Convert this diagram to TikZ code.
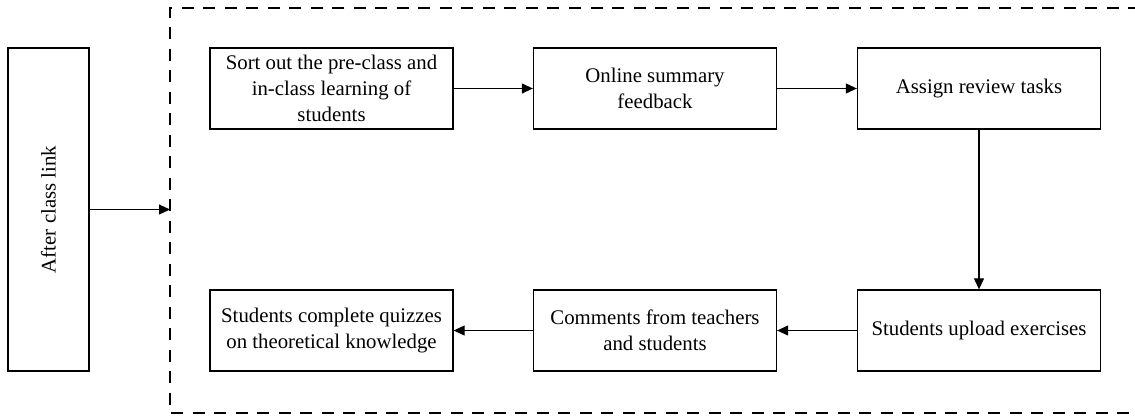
\documentclass[tikz,border=0pt]{standalone}
\usepackage{fontspec}
\setmainfont{Liberation Serif}
\usetikzlibrary{arrows.meta}

\tikzset{
  stepbox/.style={draw, line width=1.3bp, minimum width=243bp, minimum height=81bp,
    align=center, inner sep=2bp, font=\fontsize{20.8bp}{25.7bp}\selectfont},
  arr/.style={line width=1.1bp, -{Triangle[length=11bp,width=10bp]}}
}

\begin{document}
\begin{tikzpicture}[x=1bp,y=-1bp]
\useasboundingbox (0,0) rectangle (1135,415);
%
\node[stepbox, minimum width=81bp, minimum height=323bp] (link) at (48.5,209.5) {};
\node[rotate=90, font=\fontsize{20.8bp}{25.7bp}\selectfont] at (link.center) {After class link};
%
\draw[dash pattern=on 12bp off 9.5bp, line width=1.3bp]
  (1140,8) -- (170,8) -- (170,413) -- (1140,413);
\coordinate (inner) at (170,209.5);
\draw[arr] (link.east) -- (inner);
%
\node[stepbox] (sort)   at (331.5,88.5) {Sort out the pre-class and\\in-class learning of\\students};
\node[stepbox] (online) at (655,88.5)   {Online summary\\feedback};
\node[stepbox] (assign) at (979,88.5)   {Assign review tasks};
%
\node[stepbox] (quiz)    at (331.5,330.5) {Students complete quizzes\\on theoretical knowledge};
\node[stepbox] (comment) at (655,330.5)   {Comments from teachers\\and students};
\node[stepbox] (upload)  at (979,330.5)   {Students upload exercises};
%
\draw[arr] (sort) -- (online);
\draw[arr] (online) -- (assign);
\draw[arr] (assign) -- (upload);
\draw[arr] (upload) -- (comment);
\draw[arr] (comment) -- (quiz);
%
\end{tikzpicture}
\end{document}
